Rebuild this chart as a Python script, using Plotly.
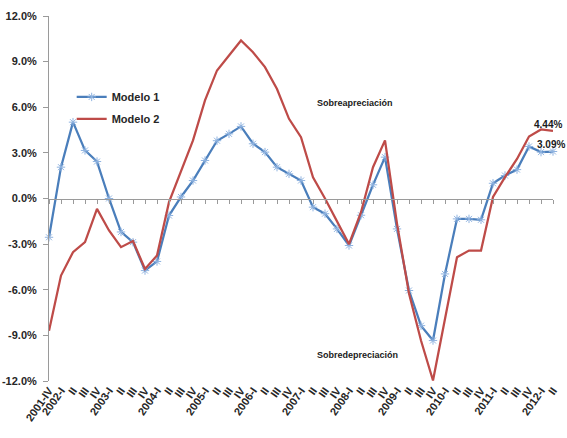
import plotly.graph_objects as go

# Trimestres 2001-IV a 2012-II
trimestres = ["2001-IV"]
for anio in range(2002, 2013):
    for q in ["I", "II", "III", "IV"]:
        trimestres.append(f"{anio}-{q}" if q == "I" else q)
trimestres = trimestres[:43]
posiciones = list(range(len(trimestres)))

# Desalineamiento (%) - Modelo 1
modelo1 = [-2.55, 2.06, 5.02, 3.16, 2.43, 0.0, -2.2, -2.87, -4.74, -4.14,
           -1.12, 0.1, 1.18, 2.5, 3.8, 4.25, 4.74, 3.6, 3.05, 2.06,
           1.62, 1.18, -0.57, -1.0, -2.0, -3.09, -1.1, 0.9, 2.72, -2.0,
           -6.05, -8.36, -9.34, -4.96, -1.34, -1.34, -1.4, 1.0, 1.51, 1.9,
           3.42, 3.05, 3.09]

# Desalineamiento (%) - Modelo 2
modelo2 = [-8.7, -5.07, -3.53, -2.87, -0.68, -2.1, -3.2, -2.8, -4.63, -3.75,
           -0.24, 1.84, 3.82, 6.45, 8.42, 9.4, 10.39, 9.62, 8.64, 7.2,
           5.24, 4.03, 1.4, 0.0, -1.45, -3.0, -0.9, 2.06, 3.82, -1.65,
           -6.25, -9.34, -11.97, -8.0, -3.86, -3.42, -3.42, 0.1, 1.4, 2.6,
           4.08, 4.54, 4.44]

y_ticks = [-12, -9, -6, -3, 0, 3, 6, 9, 12]
y_labels = [f"<b>{v:.1f}%</b>" for v in y_ticks]
x_labels = [f"<b>{t}</b>" for t in trimestres]

FAM = "Liberation Sans, Arial"
azul = "#4a7ebb"
rojo = "#be4b48"
gris = "#9a9a9a"

fig = go.Figure()
fig.add_trace(go.Scatter(
    x=posiciones, y=modelo1, name="<b>Modelo 1</b>", mode="lines+markers",
    legendgroup="m1",
    line=dict(color=azul, width=2.25),
    marker=dict(symbol="asterisk-open", size=7, color="#8fb3e0",
                line=dict(color="#8fb3e0", width=1)),
    cliponaxis=False,
))
fig.add_trace(go.Scatter(
    x=posiciones, y=modelo2, name="<b>Modelo 2</b>", mode="lines",
    legendgroup="m2",
    line=dict(color=rojo, width=2.25), cliponaxis=False,
))
# eje auxiliar sobre la linea del cero (solo marcas)
fig.add_trace(go.Scatter(
    x=posiciones, y=[None] * len(posiciones), xaxis="x2", showlegend=False,
    hoverinfo="skip",
))

texto = dict(family=FAM, size=9, color="#1a1a1a")
fig.add_annotation(x=25.5, y=6.25, text="<b>Sobreapreciación</b>", showarrow=False, font=texto)
fig.add_annotation(x=25.7, y=-10.3, text="<b>Sobredepreciación</b>", showarrow=False, font=texto)
fig.add_annotation(x=41.6, y=4.87, text="<b>4.44%</b>", showarrow=False,
                   font=dict(family=FAM, size=10, color="#1a1a1a"))
fig.add_annotation(x=0.997, xref="paper", xanchor="center", y=3.55, text="<b>3.09%</b>",
                   showarrow=False, font=dict(family=FAM, size=10, color="#1a1a1a"))

fig.update_layout(
    width=567, height=438,
    margin=dict(l=49, r=14, t=16, b=57, autoexpand=False),
    plot_bgcolor="white", paper_bgcolor="white",
    font=dict(family=FAM, size=11, color="#262626"),
    showlegend=True,
    legend=dict(x=0.045, y=0.818, xanchor="left", yanchor="top",
                bgcolor="rgba(0,0,0,0)", font=dict(family=FAM, size=11, color="#262626"),
                itemwidth=30, tracegroupgap=3),
    xaxis=dict(range=[0, 42], showline=False, ticks="", showgrid=False, zeroline=False,
               tickmode="array", tickvals=posiciones, ticktext=x_labels, automargin=False,
               tickangle=-55, tickfont=dict(size=11)),
    xaxis2=dict(overlaying="x", matches="x", anchor="free", position=0.5,
                showline=True, linecolor=gris, linewidth=1, automargin=False,
                ticks="outside", ticklen=4, tickcolor=gris,
                tickmode="array", tickvals=posiciones,
                showticklabels=False, showgrid=False, zeroline=False),
    yaxis=dict(range=[-12, 12], tickmode="array", tickvals=y_ticks, ticktext=y_labels,
               showline=True, linecolor=gris, linewidth=1, automargin=False,
               ticks="outside", ticklen=5, tickcolor=gris, ticklabelstandoff=4,
               showgrid=False, zeroline=False, tickfont=dict(size=11)),
)

fig.write_html("out.html", config={"displayModeBar": False},
               post_script="document.body.style.margin='0';")
